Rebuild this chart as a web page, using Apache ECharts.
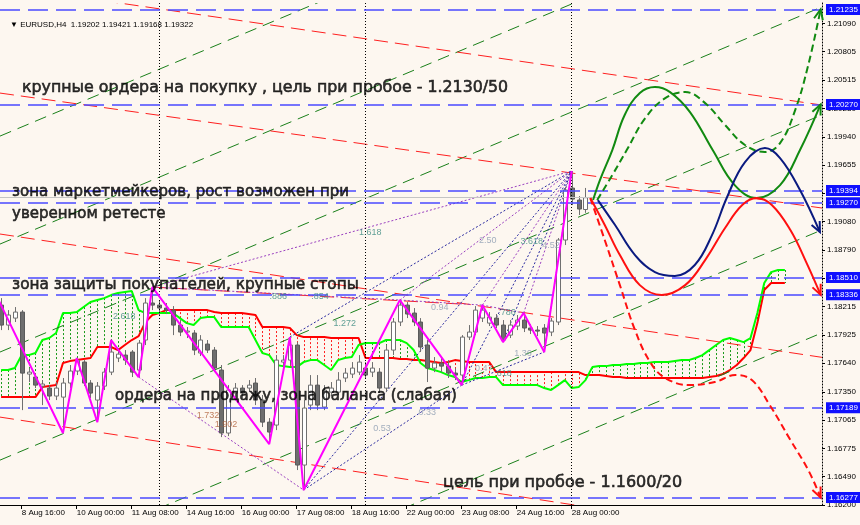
<!DOCTYPE html>
<html><head><meta charset="utf-8">
<script src="https://cdn.jsdelivr.net/npm/echarts@6/dist/echarts.min.js"></script>
<style>html,body{margin:0;padding:0;background:#fdf7f0}#c{width:860px;height:525px}</style>
</head><body><div id="c"></div>
<script>
// ---- time axis ----
const timeLabels = ['8 Aug 16:00','10 Aug 00:00','11 Aug 08:00','14 Aug 16:00','16 Aug 00:00','17 Aug 08:00','18 Aug 16:00','22 Aug 00:00','23 Aug 08:00','24 Aug 16:00','28 Aug 00:00'];
const timeLabelIdx = [0,8,16,24,32,40,48,56,64,72,80];
const weekSeparators = [20,50,80];
// ---- price axis ----
const priceTicks = [1.16200,1.16490,1.16775,1.17065,1.17350,1.17640,1.17925,1.18215,1.18500,1.18790,1.19080,1.19365,1.19655,1.19940,1.20230,1.20515,1.20805,1.21090];
const levels = [1.21235,1.20270,1.19394,1.19270,1.18510,1.18336,1.17189,1.16277];
const bidPrice = 1.19322;
// ---- candles (bar index starts at firstBar) ----
const firstBar = -3;
const opens  = [1.18231,1.18028,1.18099,1.18160,1.17530,1.17500,1.17408,1.17388,1.17307,1.17296,1.17439,1.17561,1.17652,1.17439,1.17266,1.17408,1.17550,1.17693,1.17723,1.17754,1.17571,1.17876,1.18252,1.18231,1.18201,1.18180,1.18028,1.17957,1.17947,1.17744,1.17835,1.17774,1.17571,1.16931,1.17337,1.17388,1.17388,1.17439,1.17266,1.17042,1.17012,1.17652,1.17672,1.17825,1.16606,1.17215,1.17418,1.17195,1.17347,1.17347,1.17490,1.17530,1.17550,1.17591,1.17550,1.17550,1.17388,1.17774,1.18059,1.18231,1.18150,1.18059,1.17825,1.17591,1.17642,1.17611,1.17540,1.17520,1.17906,1.17957,1.18099,1.18048,1.18099,1.18028,1.17926,1.18018,1.18079,1.17998,1.17977,1.17998,1.17957,1.18059,1.18892,1.19420,1.19298,1.19202];
const closes = [1.18028,1.18130,1.18160,1.17540,1.17550,1.17418,1.17429,1.17307,1.17388,1.17439,1.17561,1.17672,1.17439,1.17337,1.17408,1.17550,1.17754,1.17733,1.17672,1.17550,1.17845,1.18252,1.18231,1.18201,1.18180,1.18028,1.17957,1.17967,1.17774,1.17876,1.17774,1.17591,1.16931,1.17368,1.17388,1.17337,1.17418,1.17266,1.17042,1.16941,1.17672,1.17672,1.17825,1.16606,1.17185,1.17418,1.17215,1.17368,1.17388,1.17469,1.17540,1.17591,1.17652,1.17520,1.17591,1.17388,1.17774,1.18059,1.18231,1.18140,1.18059,1.17805,1.17591,1.17642,1.17611,1.17540,1.17520,1.17906,1.17957,1.18180,1.18180,1.18109,1.18028,1.17876,1.18028,1.18079,1.17998,1.17977,1.17967,1.17947,1.18069,1.18892,1.19400,1.19308,1.19207,1.19322];
const lows   = [1.17977,1.17977,1.18059,1.17164,1.17449,1.17388,1.17215,1.17266,1.17266,1.16931,1.17388,1.17520,1.17408,1.17286,1.17042,1.17368,1.17520,1.17652,1.17622,1.17500,1.17500,1.17825,1.18180,1.18130,1.18140,1.17926,1.17916,1.17896,1.17723,1.17713,1.17744,1.17550,1.16890,1.16900,1.17286,1.17286,1.17347,1.17215,1.16992,1.16819,1.16961,1.17591,1.17622,1.16555,1.16352,1.17164,1.17164,1.17164,1.17307,1.17317,1.17449,1.17490,1.17520,1.17490,1.17500,1.17337,1.17347,1.17723,1.18018,1.18099,1.18018,1.17754,1.17449,1.17550,1.17550,1.17490,1.17469,1.17418,1.17876,1.17926,1.18059,1.18018,1.17998,1.17855,1.17896,1.17977,1.17957,1.17937,1.17916,1.17754,1.17916,1.18028,1.18841,1.19247,1.19146,1.19168];
const highs  = [1.18302,1.18180,1.18211,1.18180,1.17591,1.17540,1.17469,1.17418,1.17449,1.17490,1.17622,1.17693,1.17672,1.17469,1.17449,1.17591,1.17876,1.17794,1.17774,1.17774,1.17876,1.18302,1.18414,1.18282,1.18252,1.18221,1.18079,1.18008,1.17977,1.17926,1.17876,1.17805,1.17622,1.17418,1.17439,1.17418,1.17469,1.17490,1.17317,1.17083,1.17723,1.17723,1.17906,1.17855,1.17266,1.17520,1.17520,1.17418,1.17449,1.17550,1.17591,1.17652,1.17723,1.17652,1.17652,1.17591,1.17825,1.18099,1.18282,1.18262,1.18201,1.18099,1.17876,1.17703,1.17693,1.17672,1.17591,1.17926,1.18028,1.18221,1.18231,1.18160,1.18140,1.18079,1.18079,1.18130,1.18150,1.18038,1.18018,1.18038,1.18099,1.18912,1.19430,1.19593,1.19339,1.19421];
// ---- Ichimoku cloud (senkou span A / B), from firstBar ----
const spanA = [1.17571,1.17571,1.17591,1.17723,1.17723,1.17744,1.17876,1.17896,1.17947,1.18150,1.18150,1.18160,1.18211,1.18262,1.18282,1.18302,1.18333,1.18353,1.18363,1.18373,1.18180,1.18150,1.18150,1.18150,1.18150,1.18150,1.18099,1.18048,1.18028,1.18099,1.18109,1.18109,1.18008,1.18008,1.18008,1.18008,1.18008,1.17876,1.17744,1.17723,1.17622,1.17611,1.17601,1.17601,1.17652,1.17672,1.17672,1.17622,1.17571,1.17672,1.17693,1.17703,1.17825,1.17845,1.17845,1.17845,1.17876,1.17876,1.17876,1.17845,1.17774,1.17642,1.17591,1.17571,1.17550,1.17520,1.17500,1.17449,1.17469,1.17490,1.17490,1.17500,1.17500,1.17418,1.17418,1.17418,1.17418,1.17418,1.17418,1.17388,1.17368,1.17418,1.17469,1.17388,1.17398,1.17469,1.17601,1.17611,1.17611,1.17622,1.17622,1.17632,1.17632,1.17642,1.17642,1.17652,1.17652,1.17652,1.17662,1.17672,1.17672,1.17693,1.17723,1.17774,1.17825,1.17876,1.17896,1.17876,1.17855,1.17896,1.18150,1.18455,1.18566,1.18587,1.18587];
const spanB = [1.17296,1.17296,1.17296,1.17296,1.17296,1.17296,1.17398,1.17408,1.17418,1.17642,1.17662,1.17672,1.17683,1.17693,1.17805,1.17805,1.17805,1.17774,1.17825,1.17876,1.17916,1.18059,1.18130,1.18150,1.18180,1.18180,1.18180,1.18180,1.18180,1.18180,1.18180,1.18160,1.18150,1.18150,1.18150,1.18150,1.18140,1.18130,1.18008,1.18008,1.18008,1.18008,1.17998,1.17926,1.17906,1.17906,1.17906,1.17906,1.17896,1.17896,1.17896,1.17896,1.17896,1.17693,1.17693,1.17693,1.17693,1.17693,1.17683,1.17683,1.17672,1.17672,1.17662,1.17652,1.17642,1.17652,1.17672,1.17662,1.17652,1.17652,1.17652,1.17652,1.17550,1.17550,1.17550,1.17550,1.17550,1.17550,1.17550,1.17550,1.17550,1.17550,1.17550,1.17550,1.17550,1.17520,1.17520,1.17520,1.17510,1.17500,1.17500,1.17490,1.17490,1.17490,1.17490,1.17490,1.17490,1.17490,1.17490,1.17490,1.17490,1.17490,1.17490,1.17500,1.17510,1.17530,1.17571,1.17622,1.17693,1.17774,1.18048,1.18384,1.18455,1.18455,1.18455];
// ---- zigzag ----
const zigzagIdx   = [-4,6,8,11,13,17,19,36,39,41,55,64,67,70,73,76,80];
const zigzagPrice = [1.18373,1.16931,1.17693,1.17042,1.17876,1.17500,1.18414,1.16819,1.17906,1.16352,1.18282,1.17418,1.18231,1.17855,1.18150,1.17754,1.19593];
// ---- forecast curves [bar index, price] ----
const fcGreen = [[83.1,1.19298],[84.1,1.19501],[85.9,1.19806],[87.7,1.20162],[89.9,1.20385],[92.1,1.20446],[94.3,1.20395],[97.2,1.20192],[100.5,1.19806],[103.7,1.19450],[106.9,1.19318],[110.3,1.19450],[113.2,1.19806],[116.2,1.20270]];
const fcGreenDash = [[83.7,1.19298],[85.9,1.19552],[88.0,1.19806],[90.7,1.20131],[93.6,1.20334],[96.5,1.20395],[99.4,1.20283],[102.3,1.20060],[105.2,1.19857],[108.1,1.19786],[110.3,1.19877],[112.5,1.20212],[114.4,1.20670],[116.2,1.21235]];
const fcNavy = [[83.8,1.19298],[86.3,1.19044],[89.2,1.18739],[92.1,1.18566],[95.0,1.18526],[97.9,1.18638],[100.4,1.18942],[102.6,1.19329],[105.2,1.19684],[108.1,1.19826],[110.3,1.19725],[113.2,1.19400],[116.1,1.18973]];
const fcRed = [[82.7,1.19318],[84.8,1.19044],[87.0,1.18739],[89.9,1.18434],[93.1,1.18333],[96.5,1.18434],[99.4,1.18688],[102.3,1.19014],[104.8,1.19247],[106.9,1.19318],[109.1,1.19247],[111.8,1.18993],[114.1,1.18668],[116.2,1.18336]];
const fcRedDash = [[82.7,1.19318],[84.8,1.18892],[87.0,1.18434],[89.2,1.17977],[91.4,1.17652],[93.6,1.17490],[97.2,1.17418],[100.8,1.17449],[103.8,1.17520],[106.2,1.17469],[108.8,1.17215],[111.8,1.16860],[114.4,1.16555],[116.2,1.16277]];
// ---- channel lines [idx1, price1, idx2, price2] ----
const redChannels = [[-3.16,1.21476,116.4,1.20263],[-3.16,1.20385,116.4,1.19217],[-3.16,1.18953,116.4,1.17700],[-3.16,1.17093,116.4,1.15815],[19,1.18414,64,1.18241]];
const greenChannels = [[-3.16,1.19948,116.4,1.23454],[-3.16,1.18851,116.4,1.22358],[-3.16,1.17754,116.4,1.21261],[-3.16,1.16656,116.4,1.20164],[-3.16,1.15488,116.4,1.18995],[-3.16,1.14445,116.4,1.17949]];
// ---- fibo dotted lines ----
const purpleFibo = [[19,1.18414,80,1.19593],[17,1.17500,41,1.16352],[19,1.18414,55,1.18282],[55,1.18282,67,1.18231],[67,1.18231,73,1.18150],[55,1.18282,80,1.19593],[67,1.18231,80,1.19593],[73,1.18150,80,1.19593]];
const navyFibo = [[41,1.16352,64,1.17418],[64,1.17418,76,1.17754],[41,1.16352,80,1.19593],[39,1.17906,80,1.19593],[64,1.17418,80,1.19593],[70,1.17855,80,1.19593],[76,1.17754,80,1.19593]];
const fiboLabelText  = ['1.618','2.50','3.618','4.52','2.618','.886','.854','1.272','0.94','.786','1.36','0.47','.618','1.732','1.902','0.33','0.53'];
const fiboLabelIdx   = [50.7,67.8,74.2,77.0,14.9,37.3,43.4,47.0,60.8,70.6,72.9,67.2,70.0,27.1,29.7,59.0,52.4];
const fiboLabelPrice = [1.18973,1.18892,1.18872,1.18841,1.18119,1.18313,1.18313,1.18048,1.18211,1.18160,1.17744,1.17591,1.17540,1.17114,1.17022,1.17144,1.16982];
const fiboLabelKind  = [0,1,0,1,0,0,0,0,1,0,1,1,0,2,2,1,1];
// ---- annotations ----
const notes = ['крупные ордера на покупку , цель при пробое - 1.2130/50','зона маркетмейкеров, рост возможен при','уверенном ретесте','зона защиты покупателей, крупные стопы','ордера на продажу, зона баланса (слабая)','цель при пробое - 1.1600/20'];
const noteIdx = [0.04,-1.41,-1.41,-1.41,13.57,61.28];
const notePrice = [1.20436,1.19379,1.19156,1.18434,1.17307,1.16423];
const noteSize = [15.8,15,15,15.3,15,16];

const chart = echarts.init(document.getElementById('c'), null, {renderer:'canvas'});
const FONT = 'Liberation Sans';
function segSeries(name, segs, color, width, dash, z){
  return {type:'custom', name, z, clip:true, silent:true, data:segs,
    renderItem(params, api){
      const a = api.coord([api.value(0), api.value(1)]);
      const b = api.coord([api.value(2), api.value(3)]);
      return {type:'line', shape:{x1:a[0],y1:a[1],x2:b[0],y2:b[1]}, style:{stroke:color, lineWidth:width, lineDash:dash}};
    }};
}
function curve(name, pts, color, dash){
  return {type:'line', name, data:pts, smooth:0.4, showSymbol:false, z:7, silent:true,
    lineStyle:{color, width:2, type: dash ? [7,4] : 'solid'}};
}
const curves = [fcGreen, fcGreenDash, fcNavy, fcRed, fcRedDash];
const curveColors = ['#118a11','#118a11','#0a1a80','#ff1010','#ff1010'];
const arrowData = curves.map(c => [c[c.length-2][0], c[c.length-2][1], c[c.length-1][0], c[c.length-1][1]]);
const fiboColors = ['#3a8a80','#8b9bb0','#b0603a'];

const candleRows = opens.map((o,k)=>[firstBar+k, o, closes[k], lows[k], highs[k]]);
const cloudRows = spanA.map((a,k)=>[firstBar+k, a, spanB[k]]);

const markData = [];
weekSeparators.forEach(v => markData.push({xAxis:v, lineStyle:{color:'#000', type:[1,2], width:1}, label:{show:false}}));
markData.push({yAxis:bidPrice, lineStyle:{color:'#c4c4c4', type:'solid', width:1}, label:{show:false}});
levels.forEach(v => markData.push({yAxis:v, lineStyle:{color:'#4a4aff', type:[20,8], width:1.6},
  label:{show:true, position:'end', distance:4, formatter:()=>v.toFixed(5), color:'#fff', backgroundColor:'#1010ff', padding:[2,3,1,3], fontSize:8, fontFamily:FONT}}));

const option = {
  backgroundColor:'#fdf7f0',
  animation:false,
  title:{text:'▼ EURUSD,H4  1.19202 1.19421 1.19168 1.19322', left:5, top:16, textStyle:{fontSize:8, fontWeight:'normal', fontFamily:FONT, color:'#000'}},
  grid:{left:0, right:38, top:3, bottom:20},
  xAxis:{type:'value', min:-3.16, max:116.4, splitLine:{show:false},
    axisLine:{onZero:false, lineStyle:{color:'#000', width:1}},
    axisTick:{customValues:timeLabelIdx, length:4, lineStyle:{color:'#000'}},
    axisLabel:{customValues:timeLabelIdx, formatter:v=>timeLabels[timeLabelIdx.indexOf(v)], align:'left', margin:4, fontSize:8, color:'#000', fontFamily:FONT}},
  yAxis:{type:'value', position:'right', min:1.162, max:1.213, splitLine:{show:false},
    axisLine:{show:true, onZero:false, lineStyle:{color:'#000', type:[1,2]}},
    axisTick:{show:true, customValues:priceTicks, length:3, lineStyle:{color:'#000'}},
    axisLabel:{customValues:priceTicks, formatter:v=>v.toFixed(5), margin:5, fontSize:8, color:'#000', fontFamily:FONT}},
  series:[
    {type:'custom', name:'cloud', z:1, clip:true, silent:true, data:cloudRows,
      renderItem(params, api){
        const a = api.coord([api.value(0), api.value(1)]);
        const b = api.coord([api.value(0), api.value(2)]);
        const x = Math.round(a[0])+0.5;
        return {type:'line', shape:{x1:x,y1:a[1],x2:x,y2:b[1]}, style:{stroke: api.value(1) > api.value(2) ? '#1a9a1a' : '#ff2020', lineWidth:1, lineDash:[2,2]}};
      }},
    {type:'line', name:'spanB', z:2, data:cloudRows.map(r=>[r[0], r[2]]), showSymbol:false, silent:true, lineStyle:{color:'#ff0000', width:2}},
    {type:'line', name:'spanA', z:2, data:cloudRows.map(r=>[r[0], r[1]]), showSymbol:false, silent:true, lineStyle:{color:'#00ff00', width:2}},
    segSeries('greenChannels', greenChannels, '#1a801a', 1, [12,7], 3),
    segSeries('redChannels', redChannels, '#ff2020', 1, [14,7], 3),
    segSeries('purpleFibo', purpleFibo, '#9a3fc0', 1, [2,2], 3),
    segSeries('navyFibo', navyFibo, '#2a2aa0', 1, [2,2], 3),
    {type:'custom', name:'candles', z:4, clip:true, silent:true, data:candleRows,
      renderItem(params, api){
        const i = api.value(0), o = api.value(1), c = api.value(2), l = api.value(3), h = api.value(4);
        const pO = api.coord([i,o]), pC = api.coord([i,c]), pL = api.coord([i,l]), pH = api.coord([i,h]);
        const x = Math.round(pO[0])+0.5;
        const bull = c >= o;
        const top = Math.min(pO[1],pC[1]), bot = Math.max(pO[1],pC[1]);
        return {type:'group', children:[
          {type:'line', shape:{x1:x,y1:pH[1],x2:x,y2:pL[1]}, style:{stroke:'#707070', lineWidth:1}},
          {type:'rect', shape:{x:x-2, y:top, width:4, height:Math.max(1,bot-top)}, style:{fill: bull ? '#ffffff' : '#6e6e6e', stroke: bull ? '#707070' : '#5a5a5a', lineWidth:1}}
        ]};
      }},
    {type:'line', name:'zigzag', z:5, data:zigzagIdx.map((x,k)=>[x, zigzagPrice[k]]), showSymbol:false, silent:true,
      lineStyle:{color:'#ff00ff', width:2},
      markLine:{symbol:['none','none'], precision:5, silent:true, animation:false, data:markData}},
    curve('fcGreen', fcGreen, curveColors[0], false),
    curve('fcGreenDash', fcGreenDash, curveColors[1], true),
    curve('fcNavy', fcNavy, curveColors[2], false),
    curve('fcRed', fcRed, curveColors[3], false),
    curve('fcRedDash', fcRedDash, curveColors[4], true),
    {type:'custom', name:'arrows', z:8, clip:false, silent:true, data:arrowData,
      renderItem(params, api){
        const a = api.coord([api.value(0), api.value(1)]);
        const b = api.coord([api.value(2), api.value(3)]);
        const ang = Math.atan2(b[1]-a[1], b[0]-a[0]);
        const L = 11, s = 0.42;
        const p1 = [b[0]-L*Math.cos(ang-s), b[1]-L*Math.sin(ang-s)];
        const p2 = [b[0]-L*Math.cos(ang+s), b[1]-L*Math.sin(ang+s)];
        return {type:'polyline', shape:{points:[p1,b,p2]}, style:{stroke:curveColors[params.dataIndex], lineWidth:2, fill:'none'}};
      }},
    {type:'scatter', name:'fiboLabels', z:9, silent:true, symbolSize:0,
      data:fiboLabelText.map((t,k)=>({value:[fiboLabelIdx[k], fiboLabelPrice[k]], name:t, label:{color:fiboColors[fiboLabelKind[k]]}})),
      label:{show:true, position:'inside', formatter:p=>p.name, fontSize:9, fontFamily:FONT}},
    {type:'scatter', name:'notes', z:10, silent:true, symbolSize:0,
      data:notes.map((t,k)=>({value:[noteIdx[k], notePrice[k]], name:t, label:{fontSize:noteSize[k]}})),
      label:{show:true, position:'right', distance:0, formatter:p=>p.name, color:'#000', fontFamily:'DejaVu Sans', textBorderColor:'#000', textBorderWidth:0.6}}
  ]
};
chart.setOption(option);
</script>
</body></html>
